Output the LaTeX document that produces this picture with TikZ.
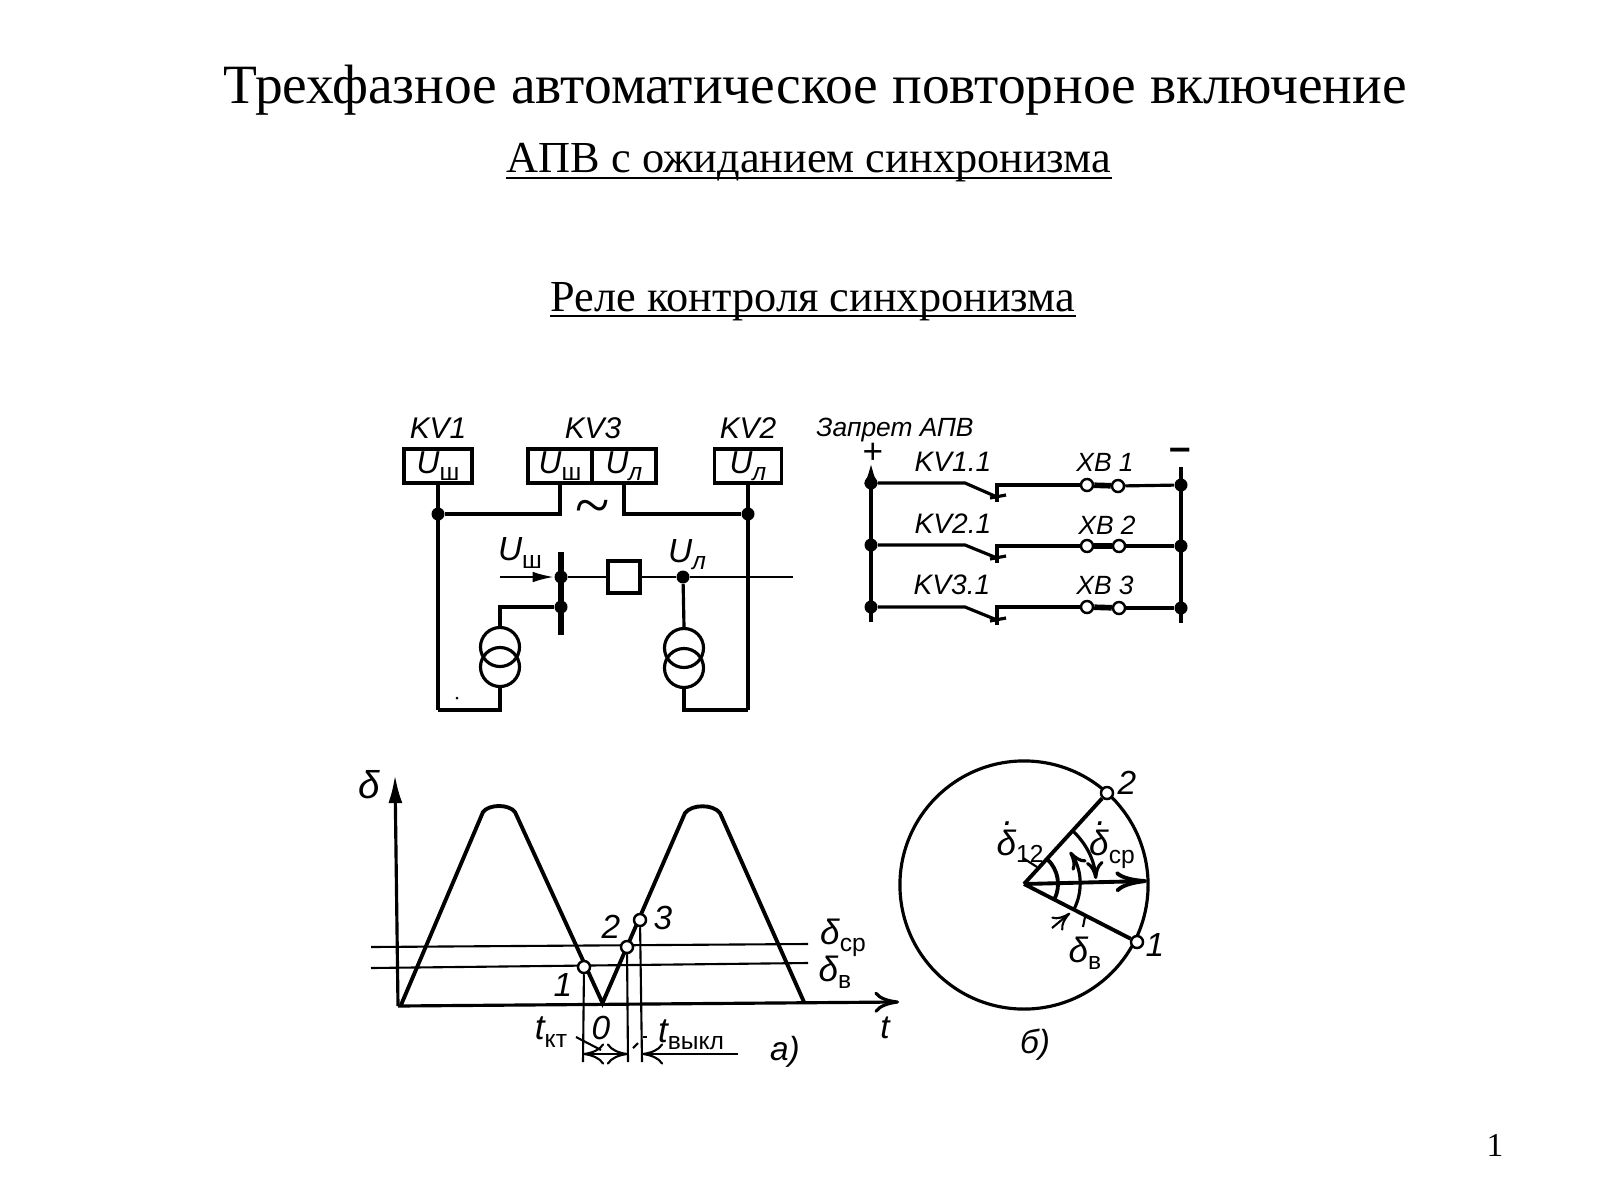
\documentclass[tikz,border=0pt]{standalone}
\usepackage{fontspec}
\setmainfont{Liberation Serif}
\setsansfont{Liberation Sans}
\usetikzlibrary{arrows.meta}
\newcommand{\subtxt}[1]{\raisebox{-.4ex}{\upshape\sffamily\fontsize{7}{8}\selectfont #1}}
\newcommand{\Ush}{U\subtxt{ш}}
\newcommand{\Ul}{U\subtxt{\itshape л}}
\newcommand{\ddelta}{\rlap{\raisebox{.85em}{\hspace{.2em}.}}δ}
\tikzset{
  wire/.style={line width=0.9pt},
  thinwire/.style={line width=0.6pt},
  heavy/.style={line width=1.6pt},
  lbl/.style={inner sep=0pt,font=\sffamily\itshape\fontsize{8.5}{10}\selectfont},
  keylbl/.style={inner sep=0pt,font=\sffamily\itshape\fontsize{8}{10}\selectfont},
  xblbl/.style={inner sep=0pt,font=\sffamily\itshape\fontsize{7.5}{10}\selectfont},
  numlbl/.style={inner sep=0pt,font=\sffamily\itshape\fontsize{9.5}{10}\selectfont},
  anglbl/.style={inner sep=0pt,font=\sffamily\itshape\fontsize{10}{12}\selectfont},
  relay/.style={draw,line width=0.9pt,inner sep=0pt,minimum height=0.34cm,font=\sffamily\itshape\fontsize{9}{10}\selectfont},
  dot/.style={circle,fill=black,inner sep=0pt,minimum size=0.13cm},
  ball/.style={circle,draw,fill=white,line width=0.7pt,inner sep=0pt,minimum size=0.12cm},
  coil/.style={circle,draw,line width=0.9pt,inner sep=0pt,minimum size=0.39cm},
  head/.style={inner sep=0pt,anchor=base}
}
\begin{document}
\begin{tikzpicture}[x=0.01cm,y=-0.01cm]
\useasboundingbox (0,0) rectangle (1600,1200);
\node[head,font=\fontsize{15.77}{18}\selectfont](title) at (815,103) {Трехфазное автоматическое повторное включение};
\node[head,font=\fontsize{12.6}{14}\selectfont](sub1) at (809,172) {АПВ с ожиданием синхронизма};
\node[head,font=\fontsize{12.6}{14}\selectfont](sub2) at (813,311) {Реле контроля синхронизма};
\draw[thinwire] ([yshift=-1.7pt]sub1.base west) -- ([yshift=-1.7pt]sub1.base east);
\draw[thinwire] ([yshift=-1.5pt]sub2.base west) -- ([yshift=-1.5pt]sub2.base east);
\node[head,font=\fontsize{9.5}{12}\selectfont](page) at (1495,1156) {1};
\node[lbl](kv1) at (438,428) {KV1};
\node[lbl](kv3) at (593,428) {KV3};
\node[lbl](kv2) at (748,428) {KV2};
\node[relay,minimum width=0.68cm](r1) at (438,466) {\Ush};
\node[relay,minimum width=0.64cm](r3a) at (560,466) {\Ush};
\node[relay,minimum width=0.64cm](r3b) at (624,466) {\Ul};
\node[relay,minimum width=0.67cm](r2) at (748,466) {\Ul};
\node[dot](j1) at (r1.south |- 0,514) {};
\node[dot](j2) at (r2.south |- 0,514) {};
\coordinate(c1) at (r3a.south |- 0,514);
\coordinate(c2) at (r3b.south |- 0,514);
\coordinate(c3) at (438,710);
\coordinate(c4) at (748,710);
\node[font=\fontsize{18}{18}\selectfont,inner sep=0pt](tilde) at (593,513) {\textasciitilde};
\draw[wire,line width=1.1pt] (r1) -- (c3);
\draw[wire,line width=1.1pt] (r2) -- (c4);
\draw[wire,line width=1pt] (j1) -- (c1) -- (r3a.south);
\draw[wire,line width=1pt] (j2) -- (c2) -- (r3b.south);
\coordinate(bustop) at (561,552);
\coordinate(busend) at (561,635);
\draw[heavy] (bustop) -- (busend);
\node[dot](j3) at (561,577) {};
\node[dot](j4) at (561,607) {};
\node[draw,line width=0.9pt,minimum size=0.32cm,inner sep=0pt](brk) at (624,577) {};
\node[dot](j5) at (683,577) {};
\coordinate(in) at (500,577);
\coordinate(out) at (793,577);
\draw[thinwire,-{Latex[length=6pt,width=3pt]}] (in) -- (j3);
\draw[thinwire] (j3) -- (brk) -- (j5) -- (out);
\node[lbl,font=\sffamily\itshape\fontsize{9.5}{10}\selectfont](ush) at (520,553) {\Ush};
\node[lbl,font=\sffamily\itshape\fontsize{9.5}{10}\selectfont](ul) at (687,555) {\Ul};
\node[coil](t1a) at (500,647) {};
\node[coil](t1b) at (500,667) {};
\node[coil](t2a) at (684,648) {};
\node[coil](t2b) at (684,668) {};
\draw[wire] (j4) -| (t1a.north);
\draw[wire] (j5) -- (t2a.north);
\draw[wire] (t1b.south) |- (c3);
\draw[wire] (t2b.south) |- (c4);
\node[circle,fill=black,inner sep=0pt,minimum size=0.03cm](spot) at (457,698) {};
\node[xblbl](ban) at (895,430) {Запрет АПВ};
\node[inner sep=0pt,font=\sffamily\fontsize{10}{12}\selectfont](plus) at (873,453) {+};
\node[inner sep=0pt,font=\sffamily\bfseries\fontsize{11}{12}\selectfont](minus) at (1180,454) {--};
\coordinate(lt) at (871,463);
\coordinate(lb) at (871,622);
\coordinate(rt) at (1181,467);
\coordinate(rb) at (1181,623);
\draw[wire,line width=1.1pt,{Latex[length=6pt,width=4pt]}-] (lt) -- (lb);
\draw[wire,line width=1.1pt] (rt) -- (rb);
\node[keylbl](k1) at (953,462) {KV1.1};
\node[keylbl](k2) at (953,524) {KV2.1};
\node[keylbl](k3) at (952,585) {KV3.1};
\node[xblbl](x1) at (1105,462) {XB 1};
\node[xblbl](x2) at (1107,525) {XB 2};
\node[xblbl](x3) at (1105,585) {XB 3};
\node[dot](a1) at (871,483) {};
\node[dot](a2) at (871,545) {};
\node[dot](a3) at (871,607) {};
\node[dot](e1) at (1181,485) {};
\node[dot](e2) at (1181,546) {};
\node[dot](e3) at (1181,608) {};
\coordinate(s1a) at (965,483);
\coordinate(s1b) at (997,497);
\coordinate(s1c) at (997,485);
\coordinate(s1d) at (997,502);
\coordinate(s2a) at (965,545);
\coordinate(s2b) at (997,558);
\coordinate(s2c) at (997,546);
\coordinate(s2d) at (997,563);
\coordinate(s3a) at (965,607);
\coordinate(s3b) at (997,620);
\coordinate(s3c) at (997,607);
\coordinate(s3d) at (997,625);
\node[ball](b1a) at (1087,485) {};
\node[ball](b1b) at (1118,486) {};
\node[ball](b2a) at (1087,546) {};
\node[ball](b2b) at (1119,546) {};
\node[ball](b3a) at (1087,607) {};
\node[ball](b3b) at (1119,608) {};
\draw[wire] (a1) -- (s1a) -- (s1b);
\draw[wire] (a2) -- (s2a) -- (s2b);
\draw[wire] (a3) -- (s3a) -- (s3b);
\draw[wire] (s1d) -- (s1c) -- (b1a);
\draw[wire] (s2d) -- (s2c) -- (b2a);
\draw[wire] (s3d) -- (s3c) -- (b3a);
\draw[wire] ([xshift=-0.07cm,yshift=-0.01cm]s1b) -- ([xshift=0.09cm,yshift=0.02cm]s1b);
\draw[wire] ([xshift=-0.07cm,yshift=-0.01cm]s2b) -- ([xshift=0.09cm,yshift=0.02cm]s2b);
\draw[wire] ([xshift=-0.07cm,yshift=-0.01cm]s3b) -- ([xshift=0.09cm,yshift=0.02cm]s3b);
\draw[heavy] (b1a) -- (b1b);
\draw[heavy] (b2a) -- (b2b);
\draw[heavy] (b3a) -- (b3b);
\draw[wire] (b1b) -- (e1);
\draw[wire] (b2b) -- (e2);
\draw[wire] (b3b) -- (e3);
\coordinate(o) at (398,1006);
\coordinate(ytop) at (395,775);
\coordinate(xend) at (899,1002);
\draw[wire,-{Latex[length=8pt,width=4pt]}] (o) -- (ytop);
\draw[wire,-{To[length=7pt,width=6pt]}] (o) -- (xend);
\draw[wire,line width=1.1pt] (401,1005) -- (483,812) .. controls (489,804) and (509,804) .. (515,812) -- (602.5,1003) -- (685,813) .. controls (692,804) and (713,804) .. (720,813) -- (804,1002);
\coordinate(h1a) at (371,947);
\coordinate(h1b) at (808,944);
\coordinate(h2a) at (371,968);
\coordinate(h2b) at (808,963);
\draw[thinwire] (h1a) -- (h1b);
\draw[thinwire] (h2a) -- (h2b);
\node[ball](p1) at (584,967) {};
\node[ball](p2) at (627,947) {};
\node[ball](p3) at (640,920) {};
\coordinate(d1) at (583,1062);
\coordinate(d2) at (628,1062);
\coordinate(d3) at (642,1062);
\coordinate(m1) at (583,1054);
\coordinate(m2) at (628,1054);
\coordinate(m3) at (642,1054);
\coordinate(m4) at (738,1054);
\draw[thinwire] (p1) -- (d1);
\draw[thinwire] (p2) -- (d2);
\draw[thinwire] (p3) -- (d3);
\draw[thinwire,{To[length=6pt,width=6pt]}-{To[length=6pt,width=6pt]}] (m1) -- (m2);
\draw[thinwire,-{To[length=6pt,width=6pt]}] (m4) -- (m3);
\draw[thinwire] (576,1037) -- (601,1050);
\draw[thinwire] (633,1048) -- (638,1043);
\draw[thinwire] (643,1037) -- (647,1037);
\node[anglbl,font=\sffamily\itshape\fontsize{11}{12}\selectfont](dy) at (369,785) {δ};
\node[numlbl](n1) at (563,985) {1};
\node[numlbl](n2) at (611,927) {2};
\node[numlbl](n3) at (663,918) {3};
\node[anglbl](dc) at (843,938) {δ\subtxt{ср}};
\node[anglbl](dv) at (835,972) {δ\subtxt{в}};
\node[anglbl](tk) at (551,1032) {t\subtxt{кт}};
\node[numlbl](zero) at (601,1028) {0};
\node[anglbl](tv) at (691,1035) {t\subtxt{выкл}};
\node[numlbl](la) at (785,1052) {а)};
\node[numlbl](lt2) at (885,1028) {t};
\draw[wire] (1024,885) circle[radius=1.24cm];
\coordinate(cen) at (1024,884);
\coordinate(rim) at (1147,881);
\node[ball](v2) at (1107,793) {};
\node[ball](v1) at (1137,942) {};
\draw[wire,line width=1.1pt] (cen) -- (v2);
\draw[wire,line width=1.1pt] (cen) -- (v1);
\draw[wire,line width=1.1pt,-{To[length=9pt,width=6pt]}] (cen) -- (rim);
\draw[wire,-{To[length=5pt,width=5pt]}] (cen) ++(47.6:0.72cm) arc[start angle=47.6,end angle=4,radius=0.72cm];
\draw[wire,-{To[length=5pt,width=5pt]}] (cen) ++(-27:0.56cm) arc[start angle=-27,end angle=35,radius=0.56cm];
\draw[wire,line width=1.1pt] (cen) ++(47:0.34cm) arc[start angle=47,end angle=-27,radius=0.34cm];
\draw[thinwire] (1023,858) -- (1037,867);
\draw[thinwire,-{To[length=5pt,width=5pt]}] (1052,928) -- (1070,913);
\draw[thinwire] (1085,917) -- (1083,927);
\node[numlbl](f2) at (1127,783) {2};
\node[numlbl](f1) at (1155,945) {1};
\node[anglbl](d12) at (1020,842) {\ddelta\subtxt{12}};
\node[anglbl](dcp) at (1112,845) {\ddelta\subtxt{ср}};
\node[anglbl](dvb) at (1085,953) {δ\subtxt{в}};
\node[numlbl](lb2) at (1035,1045) {б)};
\end{tikzpicture}
\end{document}
